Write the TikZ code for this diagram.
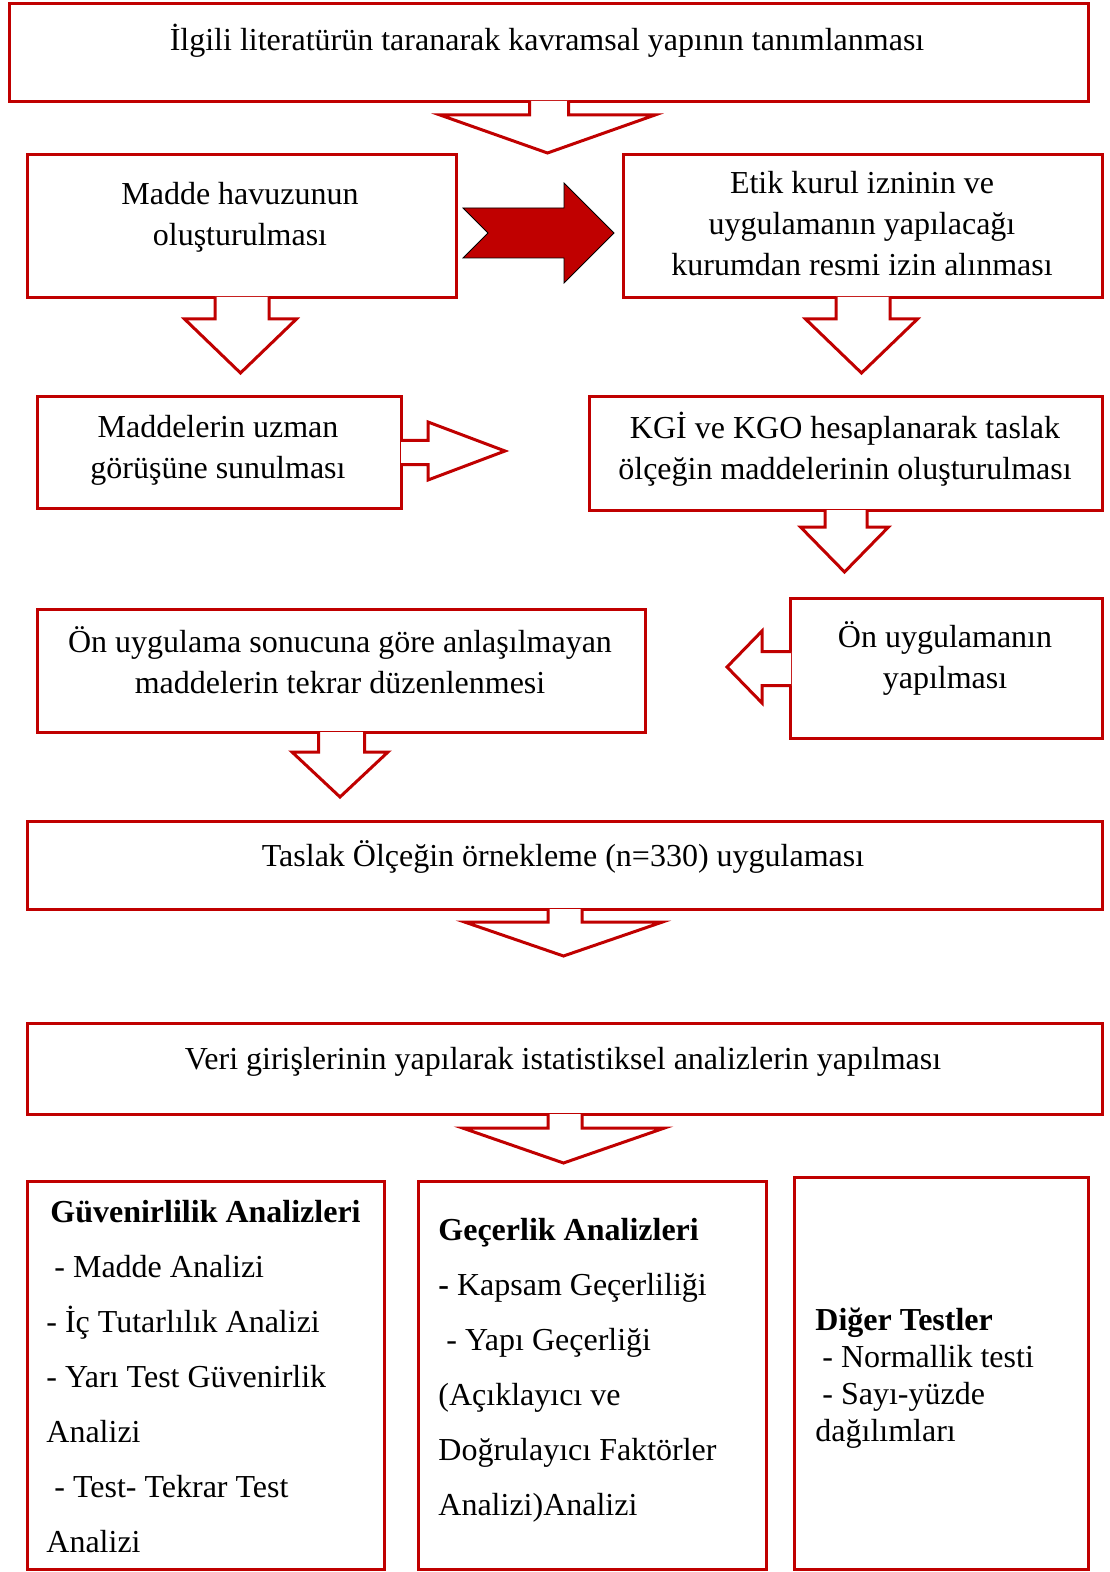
\documentclass[tikz,border=0pt]{standalone}
\usepackage{fontspec}
\setmainfont{Liberation Serif}
\usetikzlibrary{calc}
\definecolor{boxred}{RGB}{192,0,0}

\begin{document}
\begin{tikzpicture}[x=0.5pt, y=-0.5pt,
box/.style 2 args={rectangle, draw=boxred, line width=1.5pt, anchor=north west, inner sep=0pt, minimum width=#1*0.5pt, minimum height=#2*0.5pt},
txt/.style={align=center, font=\fontsize{16}{20.5}\selectfont},
list/.style={align=left, anchor=north west, inner sep=0pt, font=\fontsize{16}{27.5}\selectfont},
bdown/.style n args={3}{draw=boxred, line width=1.5pt, fill=white, to path={
  ($(\tikztostart)+(-#1,-2)$) |- ($(\tikztotarget)+(-#2,-#3)$) -- (\tikztotarget)
  -- ($(\tikztotarget)+(#2,-#3)$) -| ($(\tikztostart)+(#1,-2)$)}},
bright/.style n args={3}{draw=boxred, line width=1.5pt, fill=white, to path={
  ($(\tikztostart)+(-2,-#1)$) -| ($(\tikztotarget)+(-#3,-#2)$) -- (\tikztotarget)
  -- ($(\tikztotarget)+(-#3,#2)$) |- ($(\tikztostart)+(-2,#1)$)}},
bleft/.style n args={3}{draw=boxred, line width=1.5pt, fill=white, to path={
  ($(\tikztostart)+(2,-#1)$) -| ($(\tikztotarget)+(#3,-#2)$) -- (\tikztotarget)
  -- ($(\tikztotarget)+(#3,#2)$) |- ($(\tikztostart)+(2,#1)$)}},
notched/.style={fill=boxred, to path={
  ($(\tikztostart)+(0,-25)$) -| ($(\tikztotarget)+(-50,-50)$) -- (\tikztotarget)
  -- ($(\tikztotarget)+(-50,50)$) |- ($(\tikztostart)+(0,25)$) -- ($(\tikztostart)+(25,0)$) -- cycle}},
]
\useasboundingbox (0,0) rectangle (1109,1572);

% boxes
\node[box={1079}{98}] (lit) at (8,2) {};
\node[box={429}{143}] (madde) at (26,153) {};
\node[box={479}{143}] (etik) at (622,153) {};
\node[box={364}{112}] (uzman) at (36,395) {};
\node[box={513}{114}] (kgi) at (588,395) {};
\node[box={608}{123}] (duzen) at (36,608) {};
\node[box={312}{140}] (onuyg) at (789,597) {};
\node[box={1075}{88}] (taslak) at (26,820) {};
\node[box={1075}{91}] (veri) at (26,1022) {};
\node[box={357}{388}] (guv) at (26,1180) {};
\node[box={348}{388}] (gec) at (417,1180) {};
\node[box={294}{392}] (diger) at (793,1176) {};

% texts
\node[txt] (littxt) at (547,41) {İlgili literatürün taranarak kavramsal yapının tanımlanması};
\node[txt] (maddetxt) at (240,217) {Madde havuzunun\\oluşturulması};
\node[txt] (etiktxt) at (862,224) {Etik kurul izninin ve\\uygulamanın yapılacağı\\kurumdan resmi izin alınması};
\node[txt] (uzmantxt) at (218,450) {Maddelerin uzman\\görüşüne sunulması};
\node[txt] (kgitxt) at (845,449) {KGİ ve KGO hesaplanarak taslak\\ölçeğin maddelerinin oluşturulması};
\node[txt] (duzentxt) at (340,660) {Ön uygulama sonucuna göre anlaşılmayan\\maddelerin tekrar düzenlenmesi};
\node[txt] (onuygtxt) at (945,658) {Ön uygulamanın\\yapılması};
\node[txt] (taslaktxt) at (563,857) {Taslak Ölçeğin örnekleme (n=330) uygulaması};
\node[txt] (veritxt) at (563,1062) {Veri girişlerinin yapılarak istatistiksel analizlerin yapılması};

\node[list] (guvtxt) at (46,1200) {\hspace{2pt}\textbf{Güvenirlilik Analizleri}\\
  \hspace{4pt}- Madde Analizi\\
  - İç Tutarlılık Analizi\\
  - Yarı Test Güvenirlik\\
  Analizi\\
  \hspace{4pt}- Test- Tekrar Test\\
  Analizi};
\node[list] (gectxt) at (438,1218) {\textbf{Geçerlik Analizleri}\\
  \textbf{-} Kapsam Geçerliliği\\
  \hspace{4pt}- Yapı Geçerliği\\
  (Açıklayıcı ve\\
  Doğrulayıcı Faktörler\\
  Analizi)Analizi};
\node[list, font=\fontsize{16}{18.5}\selectfont] (digtxt) at (815,1308) {\textbf{Diğer Testler}\\
  \hspace{3.5pt}- Normallik testi\\
  \hspace{3.5pt}- Sayı-yüzde\\
  dağılımları};

% arrow ends
\coordinate (t1) at (547.5,153);
\coordinate (t2) at (240.5,373);
\coordinate (t3) at (861.5,373);
\coordinate (t4) at (844.5,572);
\coordinate (t5) at (340,797);
\coordinate (t6) at (563.5,956);
\coordinate (t7) at (563.5,1163);
\coordinate (t8) at (505,451);
\coordinate (t9) at (727,667);
\coordinate (r0) at (463,233);
\coordinate (r1) at (614,233);

% block arrows
\draw[bdown={19.5}{107.5}{38}] (lit.south) to (t1);
\draw[notched] (r0) to (r1);
\draw[bdown={27}{56}{54}] (madde.south) to (t2);
\draw[bdown={27}{56}{54}] (etik.south) to (t3);
\draw[bright={12}{29}{77}] (uzman.east) to (t8);
\draw[bdown={21}{44}{45}] (kgi.south) to (t4);
\draw[bleft={17}{36}{35}] (onuyg.west) to (t9);
\draw[bdown={23}{48}{45}] (duzen.south) to (t5);
\draw[bdown={17}{99}{34}] (taslak.south) to (t6);
\draw[bdown={17}{101}{35}] (veri.south) to (t7);
\end{tikzpicture}
\end{document}
